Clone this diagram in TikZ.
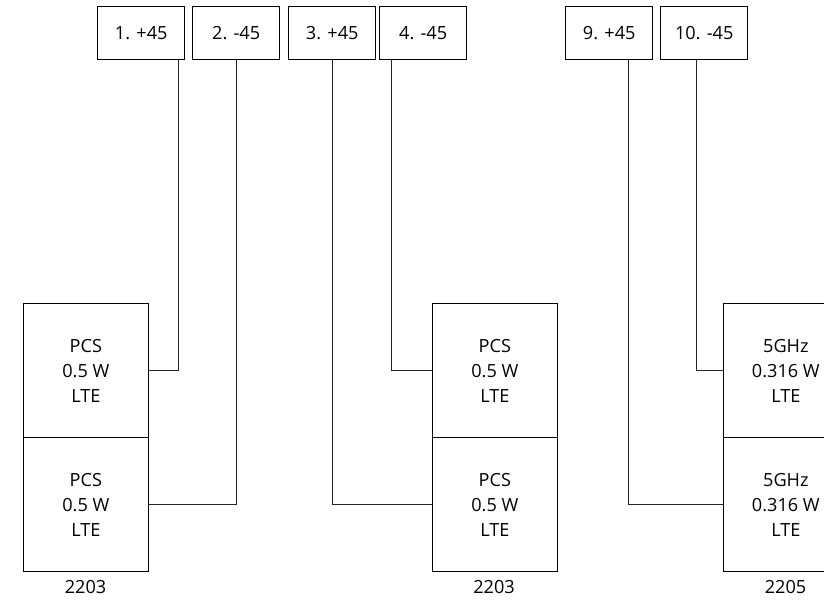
\documentclass[tikz,border=0pt]{standalone}
\usepackage{fontspec}
\setmainfont{Open Sans}
\begin{document}
\begin{tikzpicture}[x=0.75pt,y=-0.75pt,
  every node/.style={font=\fontsize{13.6}{18.75}\selectfont},
  port/.style={draw=black,line width=0.8pt,minimum width=65.5pt,minimum height=39.75pt,inner sep=0pt,anchor=north west},
  unit/.style={draw=black,line width=0.8pt,minimum width=93.5pt,minimum height=100.5pt,inner sep=0pt,align=center,anchor=north west},
  tag/.style={inner sep=0pt},
  wire/.style={line width=0.75pt,draw=black!85}]
\useasboundingbox (0,0) rectangle (824,603);
\clip (0,0) rectangle (824,603);
% top ports
\node[port] (p1) at (97,6) {1. +45};
\node[port] (p2) at (192,6) {2. -45};
\node[port] (p3) at (288,6) {3. +45};
\node[port] (p4) at (379,6) {4. -45};
\node[port] (p9) at (565,6) {9. +45};
\node[port] (p10) at (660,6) {10. -45};
% units
\node[unit] (a1) at (23,303) {PCS\\0.5 W\\LTE};
\node[unit] (a2) at (23,437) {PCS\\0.5 W\\LTE};
\node[unit] (b1) at (432,303) {PCS\\0.5 W\\LTE};
\node[unit] (b2) at (432,437) {PCS\\0.5 W\\LTE};
\node[unit] (c1) at (723,303) {5GHz\\0.316 W\\LTE};
\node[unit] (c2) at (723,437) {5GHz\\0.316 W\\LTE};
% labels
\node[tag] (la) at (85.5,587) {2203};
\node[tag] (lb) at (494,587) {2203};
\node[tag] (lc) at (785.5,587) {2205};
% wires
\draw[wire] (p1.south -| 178,0) |- (a1.east);
\draw[wire] (p2.south -| 236,0) |- (a2.east);
\draw[wire] (p3.south -| 332,0) |- (b2.west);
\draw[wire] (p4.south -| 391,0) |- (b1.west);
\draw[wire] (p9.south -| 628,0) |- (c2.west);
\draw[wire] (p10.south -| 696,0) |- (c1.west);
\end{tikzpicture}
\end{document}
